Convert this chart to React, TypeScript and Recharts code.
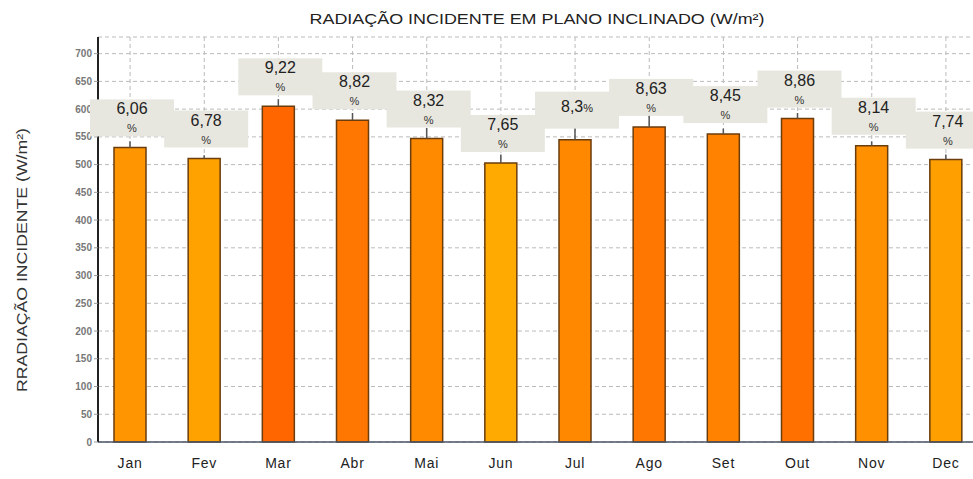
import React from 'react';
import { BarChart, Bar, XAxis, YAxis, CartesianGrid, Cell, ErrorBar, LabelList } from 'recharts';

const months = ['Jan', 'Fev', 'Mar', 'Abr', 'Mai', 'Jun', 'Jul', 'Ago', 'Set', 'Out', 'Nov', 'Dec'];
const radiation = [531, 511, 605, 580, 547, 503, 545, 568, 555, 583, 534, 509];
const errUp = [11, 6, 13, 13, 19, 15, 21, 25, 10, 10, 8, 9];
const pct = [6.06, 6.78, 9.22, 8.82, 8.32, 7.65, 8.3, 8.63, 8.45, 8.86, 8.14, 7.74];
const barColors = ['#FF9500', '#FFA200', '#FF6600', '#FF7700', '#FF8A00', '#FFAA00', '#FF8800', '#FF7700', '#FF8200', '#FF7000', '#FF9000', '#FFA000'];
const yTicks = [0, 50, 100, 150, 200, 250, 300, 350, 400, 450, 500, 550, 600, 650, 700];

const data = months.map((m, i) => ({
  month: m,
  value: radiation[i],
  err: [0, errUp[i]],
  pct: pct[i],
}));

const font = '"Liberation Sans", Arial, sans-serif';

// grey box with the percentage above each bar
const PctLabel = (props: any) => {
  const { x, y, width, value } = props;
  const cx = x + width / 2 + 2;
  const boxW = 84;
  const boxH = 37;
  const top = y - 11 - boxH;
  const txt = String(value).replace('.', ',');
  const short = txt.length <= 3;
  return (
    <g>
      <rect x={cx - boxW / 2} y={top} width={boxW} height={boxH} fill="#E8E7DF" />
      {short ? (
        <text x={cx} y={top + 20} textAnchor="middle" fontFamily={font} fill="#222">
          <tspan fontSize={16}>{txt}</tspan>
          <tspan fontSize={11}>%</tspan>
        </text>
      ) : (
        <>
          <text x={cx} y={top + 15} textAnchor="middle" fontFamily={font} fontSize={16} fill="#222">
            {txt}
          </text>
          <text x={cx} y={top + 33} textAnchor="middle" fontFamily={font} fontSize={11} fill="#333">
            %
          </text>
        </>
      )}
    </g>
  );
};

const YTitle = () => (
  <text
    x={0}
    y={0}
    transform="translate(27, 260) rotate(-90)"
    textAnchor="middle"
    fontFamily={font}
    fontSize={15}
    fill="#333"
    textLength={264}
    lengthAdjust="spacingAndGlyphs"
  >
    RRADIAÇÃO INCIDENTE  (W/m²)
  </text>
);

export default function App() {
  return (
    <div style={{ position: 'absolute', left: 0, top: 0, width: 973, height: 479, overflow: 'hidden', background: '#fff' }}>
      <svg width={973} height={30} style={{ position: 'absolute', left: 0, top: 0 }}>
        <text
          x={537}
          y={24}
          textAnchor="middle"
          fontFamily={font}
          fontSize={14}
          fill="#222"
          textLength={455}
          lengthAdjust="spacingAndGlyphs"
        >
          RADIAÇÃO INCIDENTE EM PLANO INCLINADO (W/m²)
        </text>
      </svg>
      <BarChart
        width={990}
        height={479}
        data={data}
        margin={{ top: 37, right: 7, left: 0, bottom: 0 }}
        barSize={32}
      >
        <CartesianGrid stroke="#bbb" strokeDasharray="4 3" />
        <XAxis
          dataKey="month"
          height={37}
          padding={{ left: -5, right: 0 }}
          tickLine={false}
          tickSize={0}
          tickMargin={16}
          axisLine={{ stroke: '#4a5566', strokeWidth: 1.5 }}
          tick={{ fontFamily: font, fontSize: 14, fill: '#222', letterSpacing: 0.8 }}
          interval={0}
        />
        <YAxis
          width={98}
          domain={[0, 730]}
          ticks={yTicks}
          interval={0}
          tickSize={4}
          tickMargin={2}
          tickLine={{ stroke: '#999' }}
          axisLine={{ stroke: '#222', strokeWidth: 2 }}
          tick={{ fontFamily: font, fontSize: 10, fill: '#777', fontWeight: 'bold' }}
          label={{ content: <YTitle /> }}
        />
        <Bar dataKey="value" stroke="#6b3c0c" strokeWidth={1.5} isAnimationActive={false}>
          {data.map((d, i) => (
            <Cell key={d.month} fill={barColors[i]} />
          ))}
          <ErrorBar dataKey="err" width={0} stroke="#555" strokeWidth={1.5} direction="y" />
          <LabelList dataKey="pct" content={<PctLabel />} />
        </Bar>
      </BarChart>
    </div>
  );
}
